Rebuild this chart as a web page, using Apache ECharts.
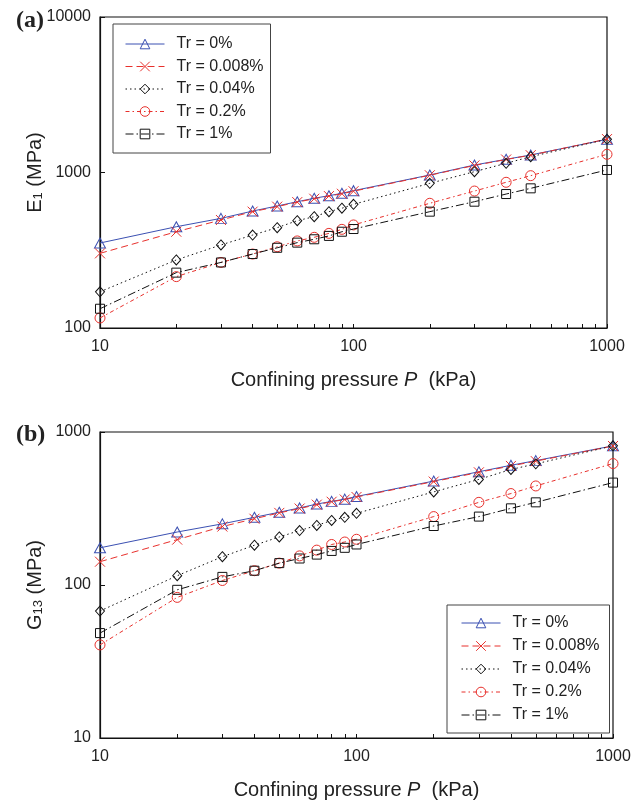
<!DOCTYPE html>
<html>
<head>
<meta charset="utf-8">
<script src="https://cdn.jsdelivr.net/npm/echarts@6/dist/echarts.min.js"></script>
<style>
html,body{margin:0;padding:0;background:#fff;}
#c{width:644px;height:801px;}
</style>
</head>
<body>
<div id="c"></div>
<script>
// ---- data ----
const pressure = [10, 20, 30, 40, 50, 60, 70, 80, 90, 100, 200, 300, 400, 500, 1000];
const seriesNames = ['Tr = 0%', 'Tr = 0.008%', 'Tr = 0.04%', 'Tr = 0.2%', 'Tr = 1%'];
// (a) E1 (MPa)
const E_tr0    = [352, 448, 507, 565, 609, 649, 683, 709, 735, 764, 964, 1117, 1216, 1296, 1635];
const E_tr0008 = [302, 416, 495, 560, 603, 645, 678, 705, 730, 758, 960, 1110, 1212, 1292, 1640];
const E_tr004  = [171, 274, 342, 396, 442, 490, 520, 560, 589, 624, 852, 1012, 1146, 1264, 1635];
const E_tr02   = [116, 214, 264, 299, 333, 363, 383, 406, 431, 460, 634, 760, 865, 954, 1309];
const E_tr1    = [133, 227, 264, 299, 328, 354, 372, 391, 416, 433, 560, 649, 727, 791, 1038];
// (b) G13 (MPa)
const G_tr0    = [175, 222, 251, 277, 299, 319, 338, 352, 364, 379, 478, 550, 606, 650, 812];
const G_tr0008 = [142, 198, 241, 271, 296, 316, 335, 350, 362, 376, 474, 545, 600, 645, 810];
const G_tr004  = [67.6, 115, 153, 182, 206, 227, 245, 264, 277, 294, 406, 490, 569, 619, 812];
const G_tr02   = [40.6, 83, 107, 124, 139, 155, 169, 184, 191, 199, 280, 347, 396, 444, 622];
const G_tr1    = [48.5, 93, 113, 124, 139, 149, 158, 167, 175, 184, 243, 280, 317, 347, 467];
// tick values
const xTicks = [10, 20, 30, 40, 50, 60, 70, 80, 90, 100, 200, 300, 400, 500, 600, 700, 800, 900, 1000];
const yTicksA = [100, 1000, 10000];
const yTicksB = [10, 100, 1000];

// ---- styles ----
const BLUE = '#3b50b2', RED = '#e8302c', BLACK = '#111';
const FONT = 'Liberation Sans';
const crossPath = 'path://M0,0L10,10M10,0L0,10';
const styles = [
  {color: BLUE, symbol: 'triangle', size: [11, 10], dash: 'solid'},
  {color: RED, symbol: crossPath, size: 10, dash: [7, 4]},
  {color: BLACK, symbol: 'diamond', size: [9, 10], dash: [1.5, 3]},
  {color: RED, symbol: 'circle', size: 10, dash: [4, 3, 1.5, 3]},
  {color: BLACK, symbol: 'rect', size: 9, dash: [8, 3, 1.5, 3]}
];
const dataA = [E_tr0, E_tr0008, E_tr004, E_tr02, E_tr1];
const dataB = [G_tr0, G_tr0008, G_tr004, G_tr02, G_tr1];

function mkSeries(arrs, idx) {
  return arrs.map((vals, i) => ({
    type: 'line',
    name: seriesNames[i],
    xAxisIndex: idx, yAxisIndex: idx,
    data: pressure.map((p, k) => [p, vals[k]]),
    symbol: styles[i].symbol,
    symbolSize: styles[i].size,
    showAllSymbol: true,
    lineStyle: {color: styles[i].color, width: 1, type: styles[i].dash},
    itemStyle: {color: 'rgba(255,255,255,0)', borderColor: styles[i].color, borderWidth: 1},
    emphasis: {disabled: true},
    animation: false,
    z: 3 + i
  }));
}

const labelFmt = v => String(Math.round(v));
function xAxis(idx) {
  return {
    type: 'log', logBase: 10, gridIndex: idx, min: 10, max: 1000,
    axisLine: {show: true, lineStyle: {color: '#111', width: 1.2}},
    axisTick: {show: true, inside: true, length: 4, customValues: xTicks, lineStyle: {color: '#111'}},
    minorTick: {show: false},
    splitLine: {show: false},
    axisLabel: {fontFamily: FONT, fontSize: 16, color: '#222', margin: 11, formatter: labelFmt},
    name: 'Confining pressure {i|P}  (kPa)',
    nameLocation: 'middle', nameGap: 42, nameMoveOverlap: false,
    nameTextStyle: {
      fontFamily: FONT, fontSize: 20, color: '#222',
      rich: {i: {fontFamily: FONT, fontSize: 20, fontStyle: 'italic', color: '#222'}}
    }
  };
}
function yAxis(idx, min, max, ticks, nm) {
  return {
    type: 'log', logBase: 10, gridIndex: idx, min: min, max: max,
    axisLine: {show: true, lineStyle: {color: '#111', width: 1.2}},
    axisTick: {show: true, inside: true, length: 5, customValues: ticks, lineStyle: {color: '#111'}},
    splitLine: {show: false},
    axisLabel: {fontFamily: FONT, fontSize: 16, color: '#222', margin: 9, formatter: labelFmt},
    name: nm,
    nameLocation: 'middle', nameGap: 55, nameMoveOverlap: false,
    nameTextStyle: {
      fontFamily: FONT, fontSize: 20, color: '#222',
      rich: {
        n: {fontFamily: FONT, fontSize: 20, color: '#222'},
        s: {fontFamily: FONT, fontSize: 13, color: '#222', verticalAlign: 'bottom', padding: [6, 0, 0, 0]}
      }
    }
  };
}
function legend(left, top, gap, pad) {
  return {
    orient: 'vertical', left: left, top: top,
    data: seriesNames,
    itemWidth: 39, itemHeight: 12, itemGap: gap,
    padding: pad,
    borderColor: '#444', borderWidth: 1, backgroundColor: '#fff',
    lineStyle: {width: 1},
    itemStyle: {borderWidth: 1},
    textStyle: {fontFamily: FONT, fontSize: 16, color: '#222', padding: [0, 0, 0, 7]},
    selectedMode: false
  };
}

const option = {
  animation: false,
  backgroundColor: '#fff',
  title: [
    {text: '(a)', left: 11, top: 4, textStyle: {fontFamily: 'Liberation Serif', fontWeight: 'bold', fontSize: 24, color: '#222'}},
    {text: '(b)', left: 11, top: 418, textStyle: {fontFamily: 'Liberation Serif', fontWeight: 'bold', fontSize: 24, color: '#222'}}
  ],
  grid: [
    {left: 100, top: 17, width: 507, height: 311, show: true, borderColor: '#111', borderWidth: 1.2, backgroundColor: 'transparent'},
    {left: 100, top: 432, width: 513, height: 310, show: true, borderColor: '#111', borderWidth: 1.2, backgroundColor: 'transparent'}
  ],
  xAxis: [xAxis(0), xAxis(1)],
  yAxis: [
    yAxis(0, 100, 10000, yTicksA, '{n|E}{s|1}{n| (MPa)}'),
    yAxis(1, 10, 1000, yTicksB, '{n|G}{s|13}{n| (MPa)}')
  ],
  legend: [
    legend(113, 24, 6.5, [12, 7, 11, 12]),
    legend(447, 605, 7, [10, 10, 10, 14])
  ],
  series: mkSeries(dataA, 0).concat(mkSeries(dataB, 1))
};

const chart = echarts.init(document.getElementById('c'), null, {renderer: 'canvas'});
chart.setOption(option);
</script>
</body>
</html>
